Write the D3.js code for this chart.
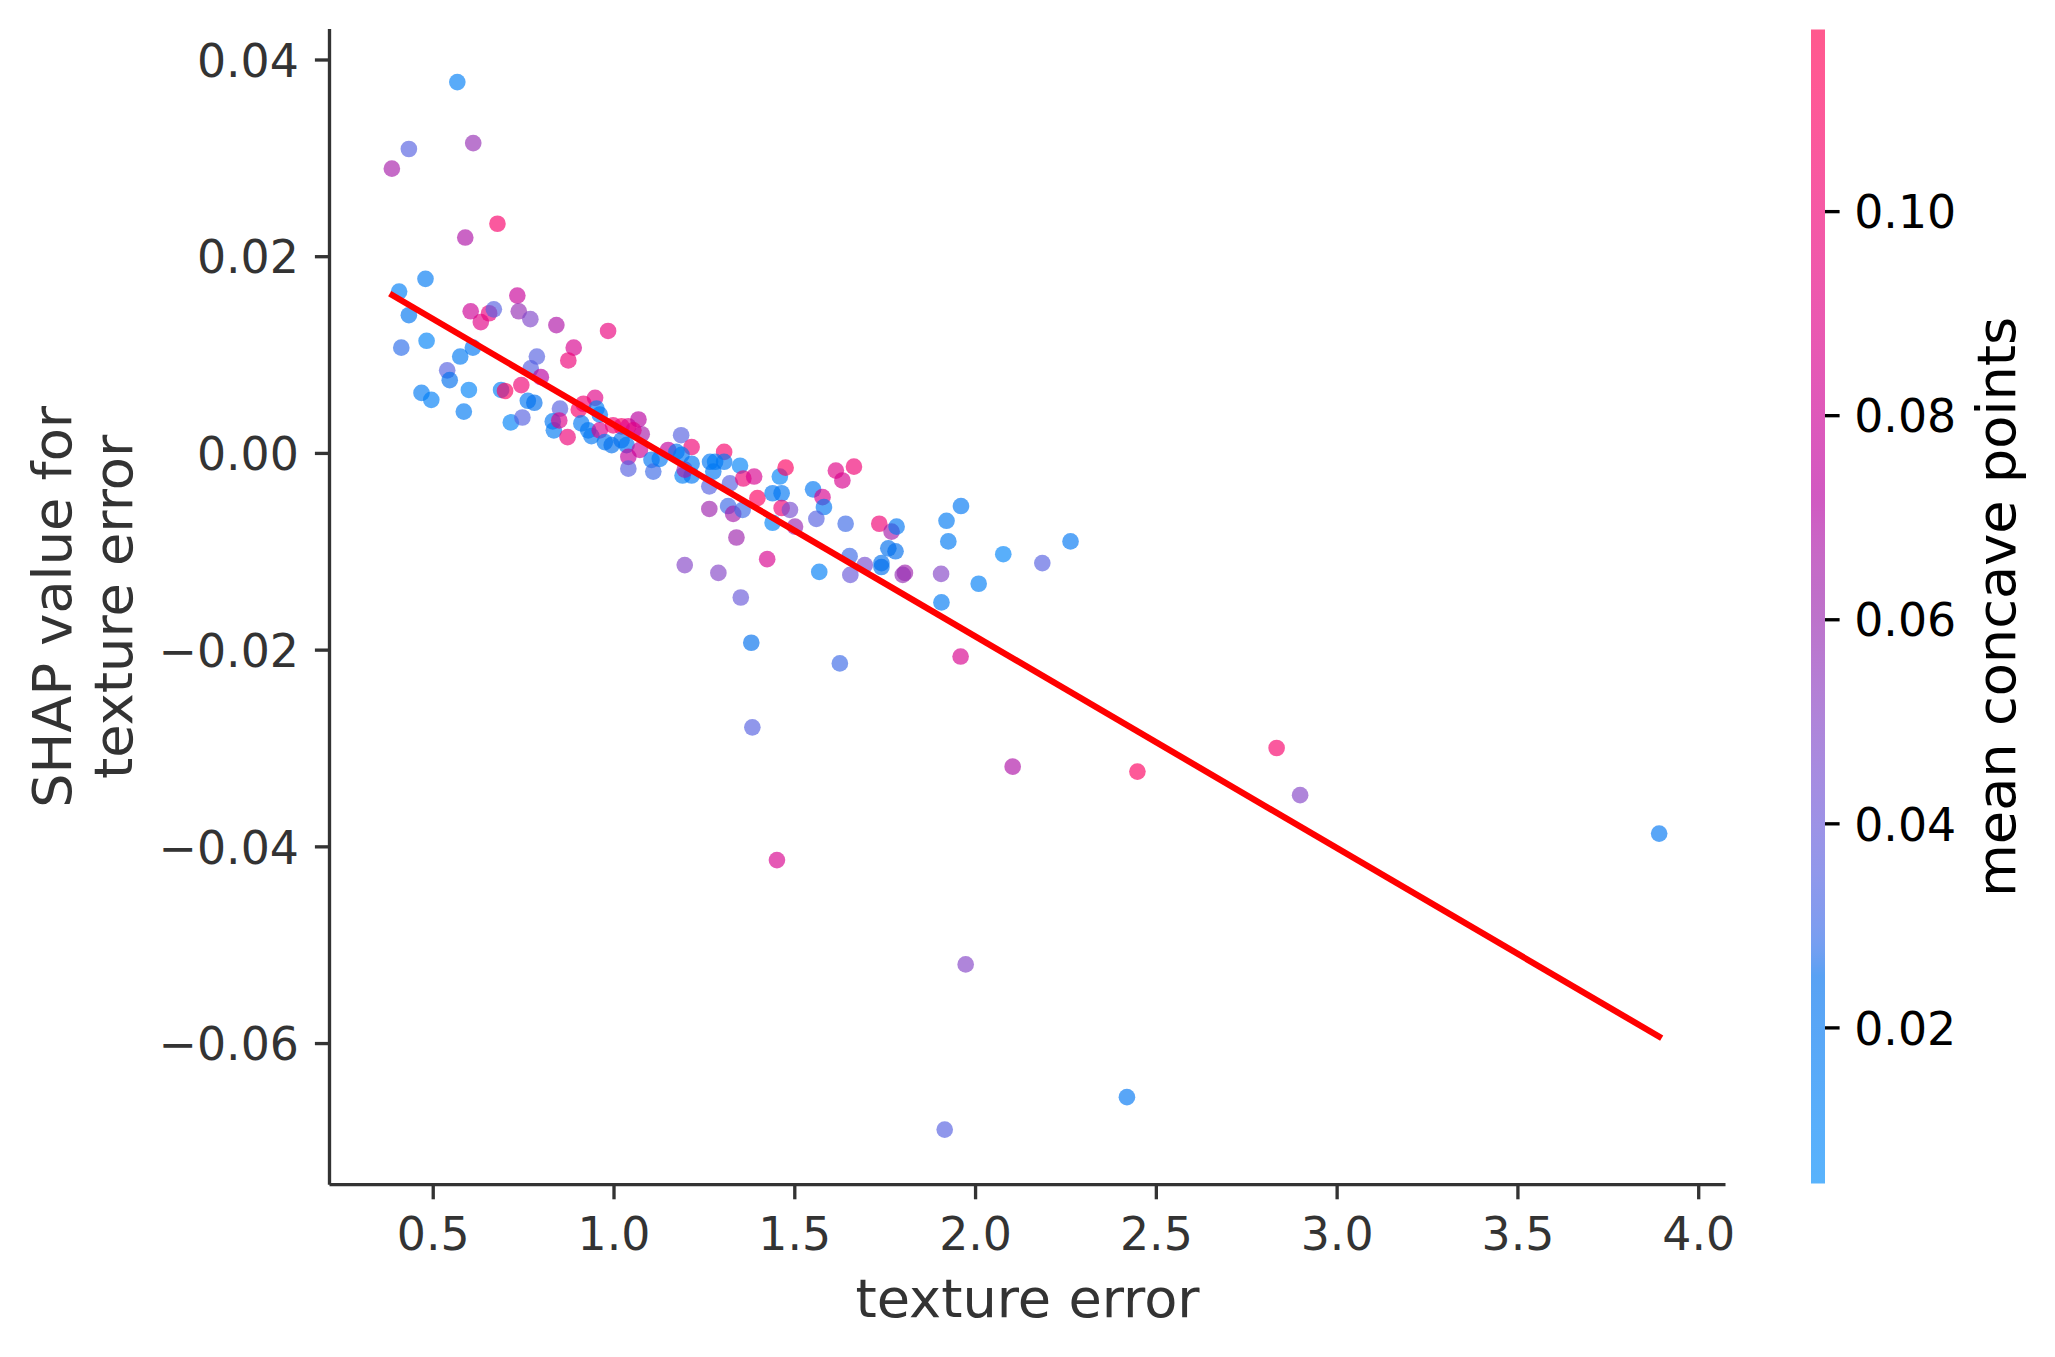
<!DOCTYPE html>
<html>
<head>
<meta charset="utf-8">
<script src="https://cdn.jsdelivr.net/npm/d3@7"></script>
<style>
  body { margin: 0; background: #fff; }
  text { font-family: "DejaVu Sans", sans-serif; }
</style>
</head>
<body>
<svg id="chart" width="2055" height="1357"></svg>
<script>
// ---------------- data ----------------
const textureError = [
  0.568,0.434,0.387,0.612,0.679,0.590,0.480,0.407,0.434,0.413,
  0.483,0.605,0.633,0.656,0.669,0.734,0.738,0.770,0.842,0.985,
  0.890,0.875,0.788,0.771,0.799,0.745,0.611,0.576,0.540,0.547,
  0.469,0.496,0.600,0.586,0.689,0.700,0.763,0.781,0.716,0.748,
  0.852,0.832,0.835,0.850,0.873,0.949,0.917,0.904,1.187,1.216,
  1.306,
  0.953,0.962,0.911,0.930,0.939,0.962,0.976,0.995,0.999,1.022,
  1.041,1.069,1.078,1.055,1.022,1.036,1.041,1.041,1.073,1.105,
  1.110,1.128,1.151,1.174,1.188,1.191,1.216,1.197,1.216,1.267,
  1.281,1.306,1.276,1.265,1.322,1.350,1.359,1.389,1.265,1.317,
  1.331,1.357,1.398,1.340,1.197,1.290,1.352,1.425,1.440,1.465,
  1.460,1.476,1.440,1.465,1.488,1.502,1.552,1.615,1.633,1.665,
  1.578,1.582,1.561,1.642,1.735,1.769,1.783,1.653,1.695,1.655,
  1.569,1.741,1.741,1.760,1.780,1.806,1.800,1.906,1.921,1.961,
  1.926,1.907,2.010,2.078,2.186,2.264,1.960,1.626,
  1.381,1.384,2.104,2.449,2.834,2.899,3.892,1.452,1.974,2.420,
  1.916
];
const shapValue = [
  0.0377,0.0309,0.0289,0.0315,0.0233,0.0219,0.0177,0.0164,0.0140,0.0107,
  0.0114,0.0144,0.0133,0.0142,0.0146,0.0160,0.0144,0.0136,0.0130,0.0124,
  0.0107,0.0094,0.0098,0.0086,0.0077,0.0069,0.0107,0.0098,0.0084,0.0074,
  0.0061,0.0054,0.0064,0.0042,0.0064,0.0063,0.0053,0.0051,0.0031,0.0036,
  0.0045,0.0032,0.0023,0.0033,0.0016,0.0056,0.0050,0.0044,0.0018,0.0006,
  0.0001,
  0.0045,0.0039,0.0030,0.0023,0.0017,0.0023,0.0011,0.0008,0.0028,0.0027,
  0.0027,0.0034,0.0019,0.0023,0.0013,0.0008,-0.0004,-0.0016,0.0003,-0.0007,
  -0.0019,-0.0006,0.0003,0.0001,-0.0002,-0.0023,-0.0023,-0.0017,-0.0011,-0.0009,
  -0.0009,-0.0009,-0.0019,-0.0034,-0.0031,-0.0013,-0.0026,-0.0024,-0.0057,-0.0054,
  -0.0062,-0.0058,-0.0046,-0.0086,-0.0114,-0.0122,-0.0147,-0.0108,-0.0041,-0.0041,
  -0.0024,-0.0015,-0.0071,-0.0056,-0.0058,-0.0075,-0.0037,-0.0018,-0.0028,-0.0014,
  -0.0045,-0.0055,-0.0067,-0.0072,-0.0072,-0.0080,-0.0075,-0.0105,-0.0114,-0.0124,
  -0.0121,-0.0112,-0.0116,-0.0097,-0.0100,-0.0122,-0.0124,-0.0123,-0.0069,-0.0054,
  -0.0090,-0.0152,-0.0133,-0.0103,-0.0112,-0.0090,-0.0207,-0.0214,
  -0.0193,-0.0279,-0.0319,-0.0324,-0.0300,-0.0348,-0.0387,-0.0414,-0.0520,-0.0655,
  -0.0688
];
const meanConcavePoints = [
  0.015,0.035,0.065,0.058,0.105,0.068,0.018,0.015,0.022,0.028,
  0.012,0.080,0.090,0.095,0.035,0.078,0.058,0.048,0.068,0.095,
  0.085,0.098,0.035,0.035,0.072,0.100,0.020,0.018,0.035,0.025,
  0.018,0.015,0.012,0.018,0.015,0.110,0.020,0.025,0.012,0.035,
  0.035,0.020,0.018,0.088,0.098,0.090,0.100,0.105,0.035,0.100,
  0.105,
  0.015,0.020,0.020,0.020,0.020,0.085,0.020,0.025,0.100,0.105,
  0.090,0.072,0.065,0.090,0.025,0.020,0.075,0.035,0.080,0.020,
  0.030,0.020,0.075,0.020,0.020,0.015,0.020,0.065,0.020,0.020,
  0.015,0.020,0.020,0.035,0.035,0.012,0.100,0.085,0.062,0.030,
  0.065,0.030,0.110,0.062,0.050,0.050,0.040,0.085,0.020,0.020,
  0.012,0.110,0.012,0.100,0.045,0.060,0.020,0.090,0.085,0.100,
  0.085,0.020,0.035,0.030,0.100,0.065,0.020,0.030,0.045,0.040,
  0.015,0.025,0.025,0.025,0.025,0.062,0.058,0.050,0.018,0.020,
  0.018,0.018,0.015,0.010,0.035,0.020,0.085,0.030,
  0.025,0.035,0.068,0.110,0.105,0.050,0.020,0.085,0.050,0.020,
  0.035
];
const fitX = [0.381, 3.899];
const fitY = [0.0162, -0.0595];

const xTicks = [0.5, 1.0, 1.5, 2.0, 2.5, 3.0, 3.5, 4.0];
const yTicks = [-0.06, -0.04, -0.02, 0.00, 0.02, 0.04];
const cbTicks = [0.02, 0.04, 0.06, 0.08, 0.10];
const xDomain = [0.2145, 4.0755];
const yDomain = [-0.0744, 0.0431];
const colorDomain = [0.0047, 0.1178];

const xLabel = "texture error";
const yLabelLines = ["SHAP value for", "texture error"];
const cbLabel = "mean concave points";

// ---------------- layout ----------------
const L = 329.5, R = 1725.5, T = 29, B = 1184.7;
const tickFont = 45.8, labelFont = 54.2;
const axisColor = "#333333";
const ALPHA = 0.65;

// ---------------- SHAP red_blue colormap (LCH) ----------------
function lch2rgb(l, c, h) {
  const a = c * Math.cos(h), b = c * Math.sin(h);
  const fy = (l + 16) / 116, fx = fy + a / 500, fz = fy - b / 200;
  const finv = t => t > 6 / 29 ? t * t * t : 3 * (6 / 29) * (6 / 29) * (t - 4 / 29);
  const X = 0.95047 * finv(fx), Y = finv(fy), Z = 1.08883 * finv(fz);
  let r = 3.2404542 * X - 1.5371385 * Y - 0.4985314 * Z;
  let g = -0.9692660 * X + 1.8760108 * Y + 0.0415560 * Z;
  let bb = 0.0556434 * X - 0.2040259 * Y + 1.0572252 * Z;
  const gam = v => v > 0.0031308 ? 1.055 * Math.pow(v, 1 / 2.4) - 0.055 : 12.92 * v;
  const cl = v => Math.max(0, Math.min(1, v));
  return [cl(gam(r)), cl(gam(g)), cl(gam(bb))].map(v => Math.round(v * 255));
}
const nsteps = 100;
const cmapColors = [];
for (let i = 0; i < nsteps; i++) {
  const half = nsteps / 2;
  const l = i < half ? 54 + (40 - 54) * i / (half - 1) : 40 + (54 - 40) * (i - half) / (half - 1);
  const c = 70 + (90 - 70) * i / (nsteps - 1);
  const h = 4.6588 + (0.35470565 + 2 * Math.PI - 4.6588) * i / (nsteps - 1);
  const [r, g, b] = lch2rgb(l, c, h);
  cmapColors.push(d3.rgb(r, g, b).formatHex());
}
const cmap = d3.scaleLinear()
  .domain(d3.range(nsteps).map(i => i / (nsteps - 1)))
  .range(cmapColors)
  .interpolate(d3.interpolateRgb)
  .clamp(true);
const cnorm = d3.scaleLinear().domain(colorDomain).range([0, 1]).clamp(true);
const colorOf = v => cmap(cnorm(v));

// ---------------- scales ----------------
const x = d3.scaleLinear().domain(xDomain).range([L, R]);
const y = d3.scaleLinear().domain(yDomain).range([B, T]);
const cy = d3.scaleLinear().domain(colorDomain).range([1183.5, 29.5]);

const svg = d3.select("#chart");
svg.append("rect").attr("width", 2055).attr("height", 1357).attr("fill", "#fff");

// points
const pts = textureError.map((v, i) => ({ x: v, y: shapValue[i], c: meanConcavePoints[i] }));
svg.append("g").selectAll("circle").data(pts).join("circle")
  .attr("cx", d => x(d.x)).attr("cy", d => y(d.y)).attr("r", 8.33)
  .attr("fill", d => colorOf(d.c)).attr("fill-opacity", ALPHA);

// fitted line
svg.append("path")
  .datum(fitX.map((v, i) => [v, fitY[i]]))
  .attr("d", d3.line().x(d => x(d[0])).y(d => y(d[1])))
  .attr("stroke", "red").attr("stroke-width", 6.25).attr("fill", "none");

// axes
const xAxis = d3.axisBottom(x).tickValues(xTicks).tickFormat(d3.format(".1f"))
  .tickSize(14.6).tickPadding(14.6).tickSizeOuter(0);
const gx = svg.append("g").attr("transform", `translate(0,${B})`).call(xAxis);
const yAxis = d3.axisLeft(y).tickValues(yTicks).tickFormat(d3.format(".2f"))
  .tickSize(14.6).tickPadding(16).tickSizeOuter(0);
const gy = svg.append("g").attr("transform", `translate(${L},0)`).call(yAxis);

[gx, gy].forEach(g => {
  g.select(".domain").attr("stroke", axisColor).attr("stroke-width", 3.33);
  g.selectAll(".tick line").attr("stroke", axisColor).attr("stroke-width", 3.33);
  g.selectAll(".tick text").attr("fill", axisColor)
    .style("font-family", '"DejaVu Sans", sans-serif').style("font-size", tickFont + "px");
});
// extend spines to the full axes box
gx.select(".domain").attr("d", `M${L},0H${R}`);
gy.select(".domain").attr("d", `M0,${T}V${B}`);
gx.selectAll(".tick text").attr("dy", null).attr("y", 65.3);
gy.selectAll(".tick text").attr("dy", "0.365em");

// axis labels
svg.append("text").attr("x", (L + R) / 2).attr("y", 1316.7)
  .attr("text-anchor", "middle").attr("fill", axisColor)
  .style("font-size", labelFont + "px").text(xLabel);
const yl = [71, 131.7];
yLabelLines.forEach((t, i) => {
  svg.append("text").attr("transform", `translate(${yl[i]},${(T + B) / 2}) rotate(-90)`)
    .attr("text-anchor", "middle").attr("fill", axisColor)
    .style("font-size", labelFont + "px").text(t);
});

// colorbar
const defs = svg.append("defs");
const grad = defs.append("linearGradient").attr("id", "cbgrad")
  .attr("x1", 0).attr("y1", 1).attr("x2", 0).attr("y2", 0);
d3.range(0, 101).forEach(i => {
  grad.append("stop").attr("offset", (i / 100)).attr("stop-color", cmap(i / 100))
    .attr("stop-opacity", ALPHA);
});
svg.append("rect").attr("x", 1811).attr("y", 29.5).attr("width", 14).attr("height", 1154)
  .attr("fill", "url(#cbgrad)");
const cbAxis = d3.axisRight(cy).tickValues(cbTicks).tickFormat(d3.format(".2f"))
  .tickSize(14.6).tickPadding(14.6).tickSizeOuter(0);
const gc = svg.append("g").attr("transform", "translate(1825,0)").call(cbAxis);
gc.select(".domain").remove();
gc.selectAll(".tick line").attr("stroke", "#000").attr("stroke-width", 3.33);
gc.selectAll(".tick text").attr("fill", "#000").attr("dy", "0.365em")
  .style("font-family", '"DejaVu Sans", sans-serif').style("font-size", tickFont + "px");
svg.append("text").attr("transform", `translate(2015,${(T + B) / 2}) rotate(-90)`)
  .attr("text-anchor", "middle").attr("fill", "#000")
  .style("font-size", labelFont + "px").text(cbLabel);
</script>
</body>
</html>
